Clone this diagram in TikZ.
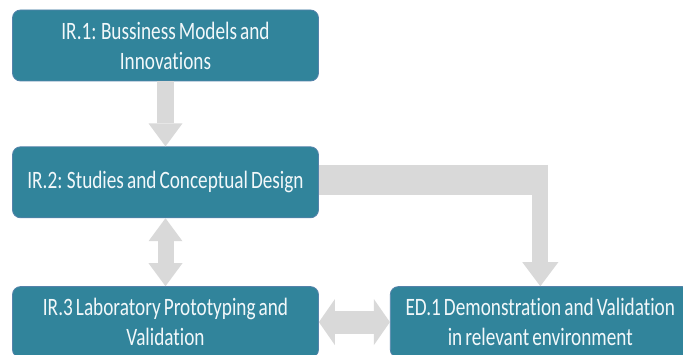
\documentclass[tikz,border=0pt]{standalone}
\usepackage{fontspec}
\newfontfamily\boxfont[FakeStretch=0.77,WordSpace=0.7,Ligatures=NoCommon]{Carlito}
\usetikzlibrary{arrows.meta}
\usetikzlibrary{calc}
\usetikzlibrary{positioning}
\definecolor{boxteal}{RGB}{49,132,155}
\definecolor{boxedge}{RGB}{84,130,170}
\definecolor{flowgray}{RGB}{217,217,217}
\definecolor{boxtext}{RGB}{242,248,250}

\begin{document}
\begin{tikzpicture}[
  x=1pt, y=1pt,
  box/.style = {draw=boxedge, line width=0.8pt, fill=boxteal, rounded corners=8pt,
    minimum width=306pt, minimum height=71pt, inner sep=0pt, align=center,
    text=boxtext, font=\boxfont\fontsize{25}{30}\selectfont},
  flow/.style = {draw=flowgray, line width=#1},
  downhead/.tip = {Triangle[width=34pt,length=23pt,line width=0pt 0 0]},
  sidehead/.tip = {Triangle[width=46pt,length=16pt,line width=0pt 0 0]}
  ]
  \useasboundingbox (0,0) rectangle (683,354);

  \node[box] (ir1) at (165.5,308.5) {IR.1: Bussiness Models and\\Innovations};
  \node[box,below=65pt of ir1] (ir2) {IR.2: Studies and Conceptual Design};
  \node[box,below=68pt of ir2] (ir3) {IR.3 Laboratory Prototyping and\\Validation};
  \node[box,minimum width=300pt,right=71pt of ir3] (ed1) {ED.1 Demonstration and Validation\\in relevant environment};

  \draw[flow=17pt,-downhead] (ir1) -- (ir2);
  \draw[flow=16pt,downhead-downhead] (ir2) -- (ir3);
  \draw[flow=23pt,sidehead-sidehead] (ir3) -- (ed1);

  % bent arrow from IR.2 down to ED.1
  \coordinate (turn) at ($(ed1.north |- ir2.east)+(0,17.5)$);
  \draw[flow=30pt] ([yshift=2.5pt]ir2.east) -- ($(turn)+(8,-15)$);
  \draw[flow=16pt,-{Triangle[width=36pt,length=24pt,line width=0pt 0 0]}] (turn) -- (ed1);
\end{tikzpicture}
\end{document}
